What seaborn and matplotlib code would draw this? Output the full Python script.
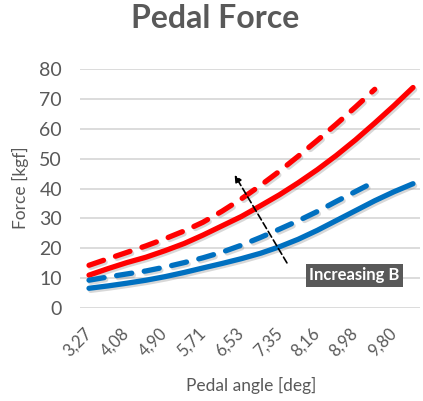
import pandas as pd
import matplotlib.pyplot as plt
import matplotlib.patheffects as pe
import seaborn as sns

# pedal angle [deg] at each point (category spacing of the original sheet)
angle = [3.27, 3.68, 4.08, 4.49, 4.90, 5.31, 5.71, 6.12, 6.53,
         6.94, 7.35, 7.75, 8.16, 8.57, 8.98, 9.39, 9.80, 10.21]
tick_labels = ["3,27", "4,08", "4,90", "5,71", "6,53", "7,35", "8,16", "8,98", "9,80"]

# force [kgf]
red_solid = [11.0, 13.2, 15.2, 17.0, 19.2, 21.6, 24.4, 27.5, 30.6,
             34.2, 37.9, 41.9, 46.3, 51.1, 56.3, 61.9, 67.7, 73.8]
red_dashed = [14.3, 16.5, 18.6, 20.8, 23.2, 25.8, 28.7, 32.4, 36.5,
              41.0, 45.8, 50.8, 56.1, 61.6, 67.3, 73.2]
blue_solid = [6.6, 7.4, 8.3, 9.3, 10.5, 11.9, 13.4, 14.9, 16.5,
              18.3, 20.5, 23.0, 26.0, 29.3, 32.6, 35.9, 38.9, 41.6]
blue_dashed = [9.3, 10.4, 11.4, 12.4, 13.7, 15.2, 16.8, 18.7, 21.0,
               23.6, 26.4, 29.2, 32.3, 35.7, 39.0, 42.3]

RED = "#FF0000"
BLUE = "#0070C0"
GREY = "#595959"

sns.set_theme(style="whitegrid")
plt.rcParams['font.family'] = ['Lato', 'DejaVu Sans']

fig = plt.figure(figsize=(4.23, 4.01), dpi=100)
ax = fig.add_axes([80 / 423, 1 - 308 / 401, 340 / 423, 239 / 401])

shadow = [pe.SimpleLineShadow(offset=(1.2, -1.5), shadow_color='grey', alpha=0.3), pe.Normal()]

series = [
    (red_solid, RED, '-'),
    (red_dashed, RED, '--'),
    (blue_solid, BLUE, '-'),
    (blue_dashed, BLUE, '--'),
]
for vals, col, ls in series:
    df = pd.DataFrame({'angle': angle[:len(vals)], 'force': vals})
    line_ax = sns.lineplot(data=df, x='angle', y='force', color=col, lw=3.8, ax=ax)
    ln = line_ax.lines[-1]
    ln.set_solid_capstyle('round')
    ln.set_dash_capstyle('round')
    if ls == '--':
        ln.set_dashes((2.9, 2.4))
    ln.set_path_effects(shadow)

ax.set_xlim(3.077, 10.36)
ax.set_ylim(0, 80)
ax.set_yticks(range(0, 81, 10))
ax.set_xticks(angle[::2])
ax.set_xticklabels(tick_labels, rotation=45, ha='right', rotation_mode='anchor', va='center')
ax.tick_params(axis='x', labelsize=12, colors=GREY, pad=16, length=0)
ax.tick_params(axis='y', labelsize=14, colors=GREY, pad=13, length=0)
ax.set_xlabel('')
ax.set_ylabel('')

ax.grid(axis='x', visible=False)
ax.grid(axis='y', color='#D9D9D9', lw=1.3)
for s in ax.spines.values():
    s.set_visible(False)
ax.set_facecolor('white')

# arrow + label
ax.annotate('', xy=(6.36, 45.3), xytext=(7.54, 14.3),
            arrowprops=dict(arrowstyle='-|>', color='black', lw=1.2,
                            linestyle=(0, (4, 2)), mutation_scale=10))
ax.text(8.96, 10.9, 'Increasing B', ha='center', va='center', color='white',
        fontsize=12, fontweight='bold',
        bbox=dict(boxstyle='square,pad=0.2', fc=GREY, ec='none'))

fig.text(215.5 / 423, 1 - 19 / 401, 'Pedal Force', ha='center', va='center',
         fontsize=23, fontweight='bold', color=GREY)
fig.text(251.5 / 423, 1 - 385 / 401, 'Pedal angle [deg]', ha='center', va='center',
         fontsize=12.5, color=GREY)
fig.text(20 / 423, 1 - 188 / 401, 'Force [kgf]', ha='center', va='center',
         rotation=90, fontsize=12.5, color=GREY)

fig.savefig('out.png', dpi=100, facecolor='white')
